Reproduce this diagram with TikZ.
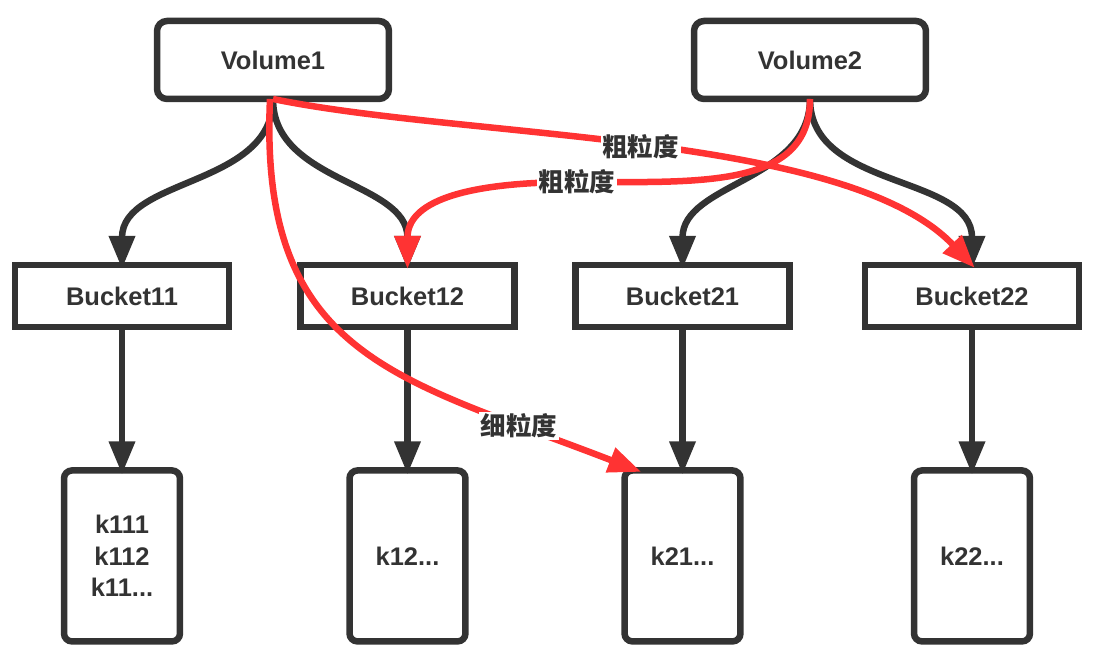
\documentclass[tikz,border=0pt]{standalone}
\usepackage{fontspec}
\setmainfont{Liberation Sans}
\newfontfamily\cjk{Noto Sans CJK SC}
\usetikzlibrary{positioning}
\usetikzlibrary{arrows.meta}
\definecolor{ink}{HTML}{333333}
\definecolor{hot}{HTML}{FF3333}

\begin{document}
\begin{tikzpicture}[x=0.02cm, y=0.02cm, color=ink, line width=3.7pt,
		font=\fontsize{14.5}{18}\selectfont\bfseries, node distance=5.2cm,
		>={Triangle[length=0.66cm,width=0.5cm]}, shorten >=-0.08cm,
		box/.style={draw, rectangle, outer sep=0pt, minimum width=4.28cm, minimum height=1.24cm},
		vol/.style={box, rounded corners=0.2cm, minimum width=4.64cm, minimum height=1.56cm},
		keys/.style={box, rounded corners=0.16cm, minimum width=2.32cm, minimum height=3.42cm, align=center},
		lbl/.style={fill=white, text=ink, inner sep=1pt, font=\fontsize{14.5}{18}\selectfont\cjk\bfseries},
		grain/.style={->, draw=hot}]
		\useasboundingbox (0,0) rectangle (1096,661);
		\node (v1) [vol] at (273,601) {Volume1};
		\node (v2) [vol] at (810,601) {Volume2};
		\node (b11) [box] at (122,365) {Bucket11};
		\node (b12) [box] at (407.5,365) {Bucket12};
		\node (b21) [box] at (682.5,365) {Bucket21};
		\node (b22) [box] at (972,365) {Bucket22};
		\node (k11) [keys, below of = b11] {k111\\k112\\k11...};
		\node (k12) [keys, below of = b12] {k12...};
		\node (k21) [keys, below of = b21] {k21...};
		\node (k22) [keys, below of = b22] {k22...};
		\coordinate (m2) at (577,479);
		% volume -> bucket -> keys
		\draw [->] (v1.south) to [out=-90, in=90] (b11.north);
		\draw [->] (v1.south) to [out=-90, in=90] (b12.north);
		\draw [->] (v2.south) to [out=-90, in=90] (b21.north);
		\draw [->] (v2.south) to [out=-90, in=90] (b22.north);
		\draw [->] (b11.south) -- (k11.north);
		\draw [->] (b12.south) -- (k12.north);
		\draw [->] (b21.south) -- (k21.north);
		\draw [->] (b22.south) -- (k22.north);
		% granularity
		\draw [grain] (v1.south) to [out=-11.6, in=133.4, out distance=3.98cm, in distance=3.64cm]
			node (l1) [lbl, pos=0.49] {粗粒度} (b22.north);
		\draw [grain] (v2.south) to [out=-90, in=0, out distance=1.8cm, in distance=2.46cm] (m2)
			to [out=180, in=90, out distance=2.34cm, in distance=1.24cm] (b12.north);
		\node (l2) [lbl] at (m2) {粗粒度};
		\draw [grain] ([xshift=-0.06cm]v1.south) to [out=-92.6, in=158.8, out distance=5.2cm, in distance=5.08cm]
			node (l3) [lbl, pos=0.82] {细粒度} ([xshift=0.26cm]k21.north west);
\end{tikzpicture}
\end{document}
